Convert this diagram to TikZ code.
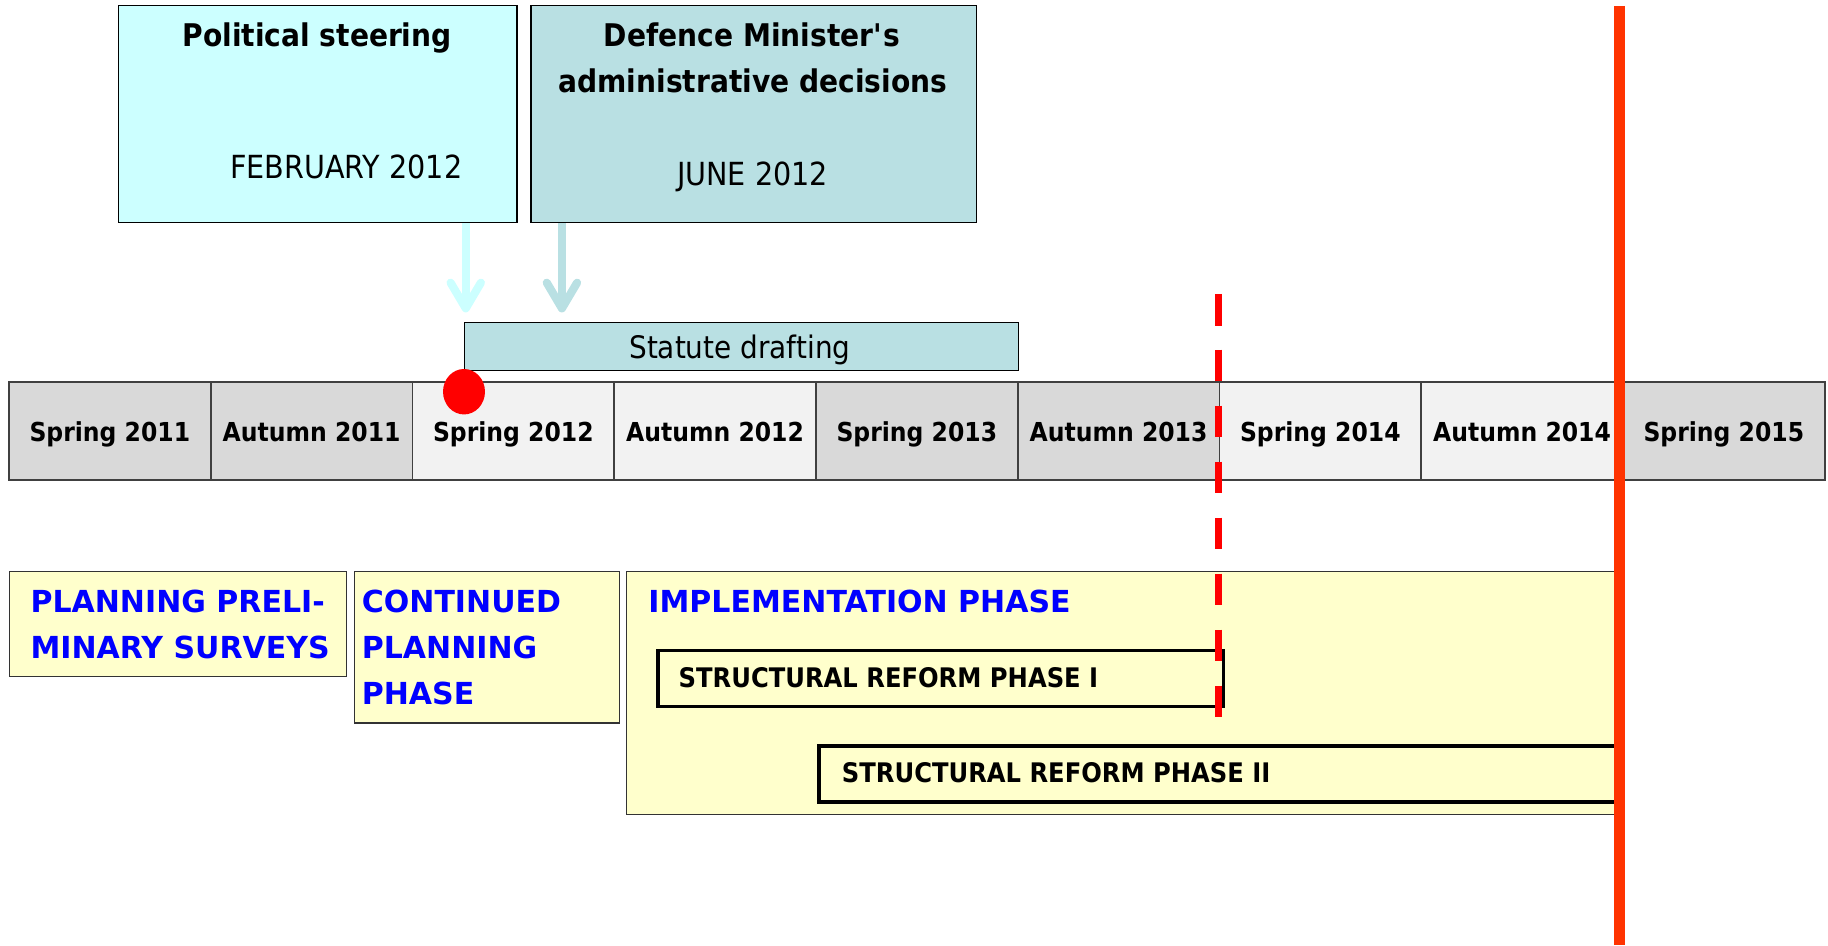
\documentclass[tikz,border=0pt]{standalone}
\usepackage{fontspec}
\setmainfont{DejaVu Sans}[FakeStretch=0.9]
\newfontfamily\capsfont{DejaVu Sans}[FakeStretch=0.99]
\usetikzlibrary{arrows.meta,shapes.geometric}

\definecolor{cyanbox}{HTML}{CCFFFF}
\definecolor{tealbox}{HTML}{B9E0E3}
\definecolor{cellgray}{HTML}{D9D9D9}
\definecolor{celllight}{HTML}{F2F2F2}
\definecolor{paleyellow}{HTML}{FFFFCC}
\definecolor{phaseblue}{HTML}{0000FF}
\definecolor{deadline}{HTML}{FF3300}
\definecolor{cellline}{HTML}{404040}

\tikzset{
  panel/.style={draw=black, line width=1.4pt, anchor=north west, inner sep=0pt},
  hdrbold/.style={font=\fontsize{26.8}{31}\selectfont\bfseries, inner sep=0pt, anchor=base},
  hdrplain/.style={font=\fontsize{27.3}{31}\selectfont, inner sep=0pt, anchor=base},
  cellbox/.style={draw=cellline, line width=1.4pt, anchor=north west, inner sep=0pt,
    minimum width=173.05pt, minimum height=84pt, text height=18pt, text depth=0pt,
    font=\fontsize{22.4}{27}\selectfont\bfseries},
  phasebox/.style={draw=black!80, line width=1pt, fill=paleyellow, anchor=north west, inner sep=0pt},
  phasetext/.style={text=phaseblue, font=\capsfont\fontsize{26}{31}\selectfont\bfseries, inner sep=0pt, anchor=base west},
  stagebox/.style={draw=black, line width=3pt, anchor=north west, inner sep=0pt},
  stagetext/.style={font=\fontsize{23.1}{27}\selectfont\bfseries, inner sep=0pt, anchor=base west},
  feed/.style={line width=7pt, -{Straight Barb[round, length=22pt, width=26pt, line width=7pt]}},
}

\begin{document}
\begin{tikzpicture}[x=1pt, y=-1pt]
\useasboundingbox (0,0) rectangle (1568,811);

% decision boxes at the top
\node[panel, fill=cyanbox, minimum width=342pt, minimum height=186pt] (pol) at (101,4) {};
\node[panel, fill=tealbox, minimum width=382pt, minimum height=186pt] (dmd) at (455,4) {};
\node[hdrbold] (polt) at (272,40) {Political steering};
\node[hdrplain] (pold) at (297,153) {FEBRUARY 2012};
\node[hdrbold] (dmdt1) at (645,40) {Defence Minister\textquotesingle s};
\node[hdrbold] (dmdt2) at (645.8,79.5) {administrative decisions};
\node[hdrplain] (dmdd) at (645.5,159.3) {JUNE 2012};

% statute drafting bar
\node[panel, line width=1.2pt, fill=tealbox, minimum width=475pt, minimum height=41pt] (stat) at (398,276) {};
\node[hdrplain, font=\fontsize{26.6}{31}\selectfont] (statt) at (634.6,307.4) {Statute drafting};

% arrows from the decisions to the drafting bar
\coordinate (tipA) at (399.5,268);
\coordinate (tipB) at (482,268);
\draw[feed, cyanbox] (tipA |- pol.south) -- (tipA);
\draw[feed, tealbox] (tipB |- dmd.south) -- (tipB);

% half-year timeline
\foreach \lab/\col [count=\i] in {Spring 2011/cellgray, Autumn 2011/cellgray,
    Spring 2012/celllight, Autumn 2012/celllight, Spring 2013/cellgray,
    Autumn 2013/cellgray, Spring 2014/celllight, Autumn 2014/celllight,
    Spring 2015/cellgray}
  \node[cellbox, fill=\col] (cell\i) at ({7+173.05*(\i-1)},327) {\lab};

% start marker
\node[ellipse, fill=red, inner sep=0pt, minimum width=36pt, minimum height=39pt] (start) at (398,336) {};

% phases
\node[phasebox, minimum width=289pt, minimum height=90pt] (prel) at (7.7,490) {};
\node[phasetext] (prel1) at (26,525.5) {PLANNING PRELI-};
\node[phasetext] (prel2) at (26,564.7) {MINARY SURVEYS};

\node[phasebox, minimum width=227.5pt, minimum height=129.6pt] (cont) at (303.3,490) {};
\node[phasetext] (cont1) at (310.2,525.5) {CONTINUED};
\node[phasetext] (cont2) at (310.2,564.9) {PLANNING};
\node[phasetext] (cont3) at (310.2,604.3) {PHASE};

\node[phasebox, minimum width=852pt, minimum height=208pt] (impl) at (537,490) {};
\node[phasetext] (implt) at (556,525.5) {IMPLEMENTATION PHASE};

\node[stagebox, minimum width=485pt, minimum height=48pt] (srp1) at (563,556.5) {};
\node[stagetext] (srp1t) at (582,589.6) {STRUCTURAL REFORM PHASE I};
\node[stagebox, minimum width=688pt, minimum height=48pt] (srp2) at (701,638.5) {};
\node[stagetext] (srp2t) at (722,671.4) {STRUCTURAL REFORM PHASE II};

% milestone lines
\coordinate (msTop) at (1045,252);
\coordinate (msBot) at (1045,615);
\draw[red, line width=6.5pt, dash pattern=on 27.2pt off 20.8pt] (msTop) -- (msBot);
\coordinate (dlTop) at (1389,5);
\coordinate (dlBot) at (1389,811);
\draw[deadline, line width=9pt] (dlTop) -- (dlBot);
\end{tikzpicture}
\end{document}
